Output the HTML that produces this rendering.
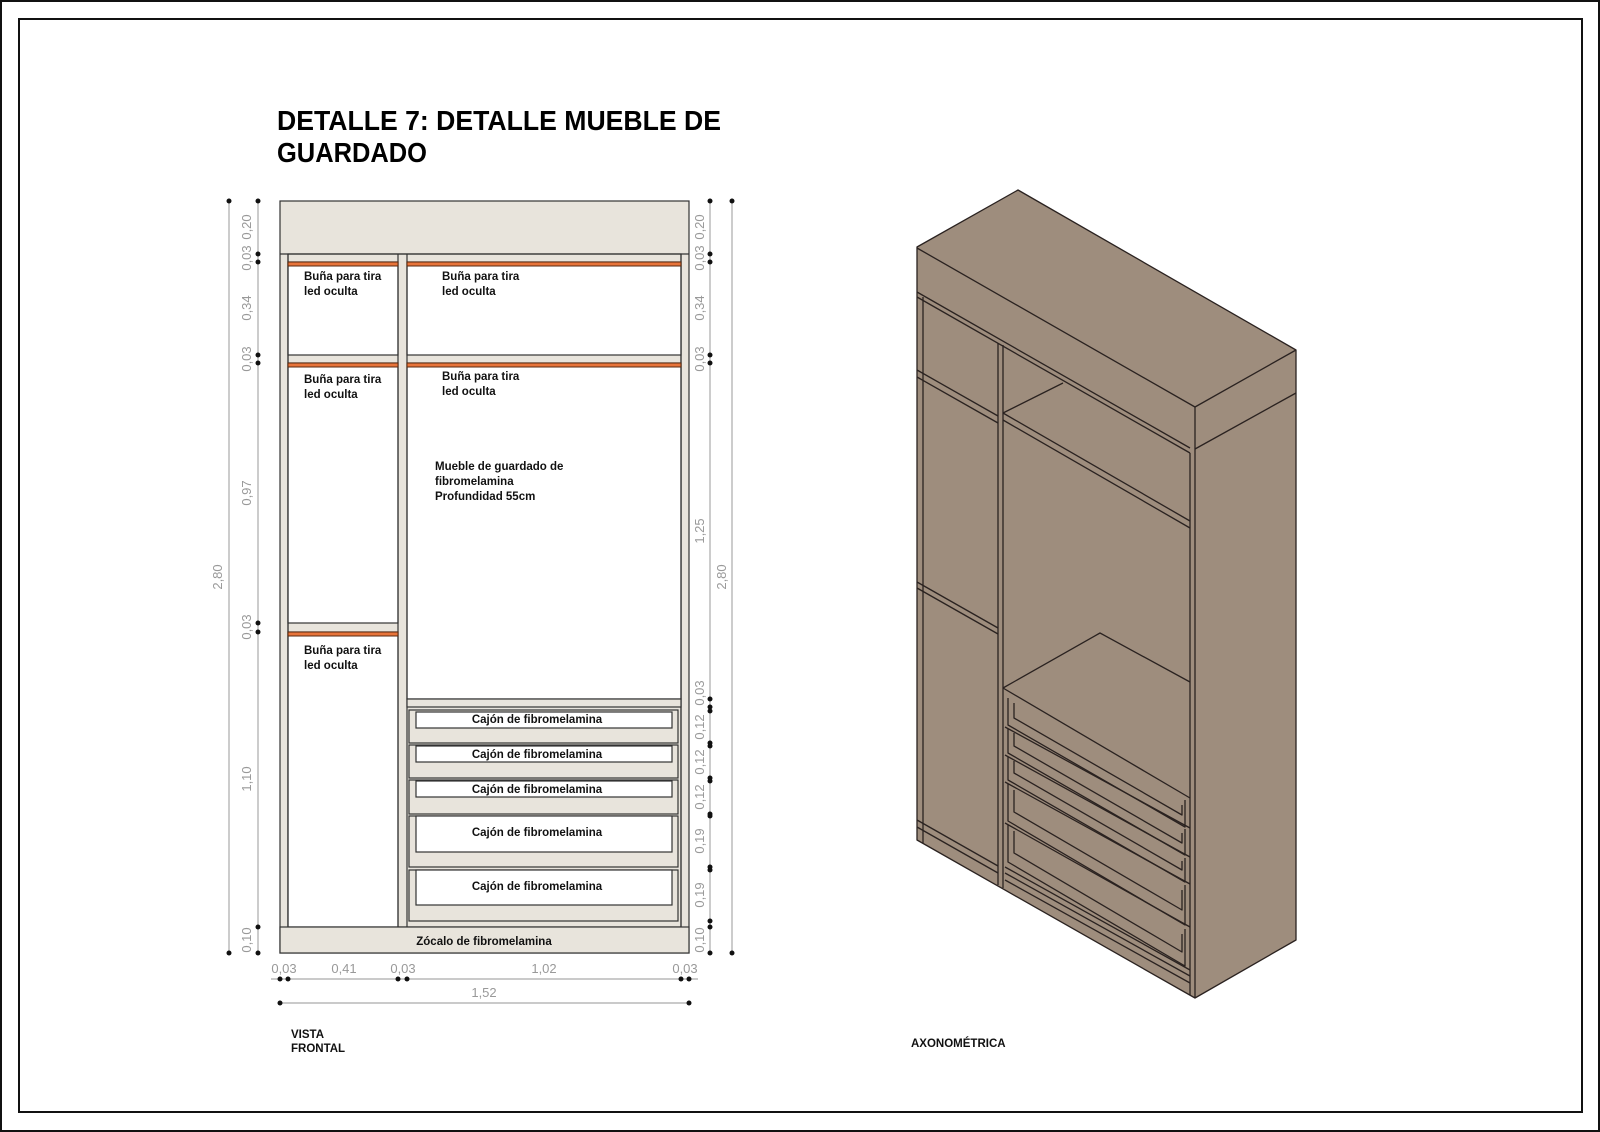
<!DOCTYPE html>
<html><head><meta charset="utf-8"><style>
html,body{margin:0;padding:0;background:#fff;}
svg{display:block;}
text{font-family:"Liberation Sans",sans-serif;}
.b{font-weight:bold;font-size:11.5px;fill:#111;}
.d{font-size:13px;fill:#999;}
</style></head><body>
<svg width="1600" height="1132" viewBox="0 0 1600 1132" xmlns="http://www.w3.org/2000/svg">
<rect x="1" y="1" width="1598" height="1130" fill="#fff" stroke="#111" stroke-width="2"/>
<rect x="19" y="19" width="1563" height="1093" fill="none" stroke="#111" stroke-width="2"/>
<text x="277" y="130" font-size="28" font-weight="bold" textLength="444" lengthAdjust="spacingAndGlyphs">DETALLE 7: DETALLE MUEBLE DE</text>
<text x="277" y="162" font-size="28" font-weight="bold" textLength="150" lengthAdjust="spacingAndGlyphs">GUARDADO</text>

<!-- front view -->
<g stroke="#333" stroke-width="1.2" fill="#e8e4dc">
<rect x="280" y="201" width="409" height="752"/>
<rect x="288" y="254" width="393" height="673" fill="#e8e4dc"/>
<rect x="288" y="262" width="110" height="93" fill="#fff"/>
<rect x="407" y="262" width="274" height="93" fill="#fff"/>
<rect x="288" y="363" width="110" height="260" fill="#fff"/>
<rect x="407" y="363" width="274" height="336" fill="#fff"/>
<rect x="288" y="632" width="110" height="295" fill="#fff"/>
<line x1="280" y1="254" x2="689" y2="254"/>
<line x1="288" y1="254" x2="288" y2="927"/><line x1="681" y1="254" x2="681" y2="927"/>
<line x1="398" y1="254" x2="398" y2="927"/><line x1="407" y1="254" x2="407" y2="927"/>
<rect x="407" y="699" width="274" height="8"/>
<rect x="409" y="710" width="269" height="33"/><rect x="416" y="712" width="256" height="16" fill="#fff"/>
<rect x="409" y="745" width="269" height="33"/><rect x="416" y="746" width="256" height="16" fill="#fff"/>
<rect x="409" y="780" width="269" height="34"/><rect x="416" y="781" width="256" height="16" fill="#fff"/>
<rect x="409" y="816" width="269" height="51"/><rect x="416" y="816" width="256" height="36" fill="#fff"/>
<rect x="409" y="870" width="269" height="51"/><rect x="416" y="870" width="256" height="35" fill="#fff"/>
<rect x="280" y="927" width="409" height="26"/>
</g>
<g fill="#e8743a" stroke="#5a2a10" stroke-width="1">
<rect x="288" y="262" width="110" height="4"/><rect x="407" y="262" width="274" height="4"/>
<rect x="288" y="363" width="110" height="4"/><rect x="407" y="363" width="274" height="4"/>
<rect x="288" y="632" width="110" height="4"/>
</g>
<g class="b">
<text x="304" y="280">Buña para tira</text><text x="304" y="295">led oculta</text>
<text x="442" y="280">Buña para tira</text><text x="442" y="295">led oculta</text>
<text x="304" y="383">Buña para tira</text><text x="304" y="398">led oculta</text>
<text x="442" y="380">Buña para tira</text><text x="442" y="395">led oculta</text>
<text x="304" y="654">Buña para tira</text><text x="304" y="669">led oculta</text>
<text x="435" y="470">Mueble de guardado de</text><text x="435" y="485">fibromelamina</text><text x="435" y="500">Profundidad 55cm</text>
</g>
<g class="b" text-anchor="middle">
<text x="537" y="723">Cajón de fibromelamina</text>
<text x="537" y="758">Cajón de fibromelamina</text>
<text x="537" y="793">Cajón de fibromelamina</text>
<text x="537" y="836">Cajón de fibromelamina</text>
<text x="537" y="890">Cajón de fibromelamina</text>
<text x="484" y="945">Zócalo de fibromelamina</text>
</g>

<!-- dimension lines -->
<g stroke="#aaa" stroke-width="1.2">
<line x1="229" y1="201" x2="229" y2="953"/><line x1="258" y1="201" x2="258" y2="953"/>
<line x1="710" y1="201" x2="710" y2="953"/><line x1="732" y1="201" x2="732" y2="953"/>
<line x1="271" y1="979" x2="698" y2="979"/><line x1="280" y1="1003" x2="689" y2="1003"/>
</g>
<g fill="#111">
<circle cx="229" cy="201" r="2.5"/><circle cx="229" cy="953" r="2.5"/>
<circle cx="732" cy="201" r="2.5"/><circle cx="732" cy="953" r="2.5"/>
<circle cx="258" cy="201" r="2.5"/><circle cx="258" cy="254" r="2.5"/><circle cx="258" cy="262" r="2.5"/><circle cx="258" cy="355" r="2.5"/><circle cx="258" cy="363" r="2.5"/><circle cx="258" cy="623" r="2.5"/><circle cx="258" cy="632" r="2.5"/><circle cx="258" cy="927" r="2.5"/><circle cx="258" cy="953" r="2.5"/>
<circle cx="710" cy="201" r="2.5"/><circle cx="710" cy="254" r="2.5"/><circle cx="710" cy="262" r="2.5"/><circle cx="710" cy="355" r="2.5"/><circle cx="710" cy="363" r="2.5"/><circle cx="710" cy="699" r="2.5"/><circle cx="710" cy="707" r="2.5"/><circle cx="710" cy="711" r="2.5"/><circle cx="710" cy="743" r="2.5"/><circle cx="710" cy="746" r="2.5"/><circle cx="710" cy="778" r="2.5"/><circle cx="710" cy="781" r="2.5"/><circle cx="710" cy="814" r="2.5"/><circle cx="710" cy="816" r="2.5"/><circle cx="710" cy="867" r="2.5"/><circle cx="710" cy="870" r="2.5"/><circle cx="710" cy="921" r="2.5"/><circle cx="710" cy="927" r="2.5"/><circle cx="710" cy="953" r="2.5"/>
<circle cx="280" cy="979" r="2.5"/><circle cx="288" cy="979" r="2.5"/><circle cx="398" cy="979" r="2.5"/><circle cx="407" cy="979" r="2.5"/><circle cx="681" cy="979" r="2.5"/><circle cx="689" cy="979" r="2.5"/>
<circle cx="280" cy="1003" r="2.5"/><circle cx="689" cy="1003" r="2.5"/>
</g>
<g class="d" text-anchor="middle">
<text transform="translate(251,227) rotate(-90)">0,20</text>
<text transform="translate(251,258) rotate(-90)">0,03</text>
<text transform="translate(251,308) rotate(-90)">0,34</text>
<text transform="translate(251,359) rotate(-90)">0,03</text>
<text transform="translate(251,493) rotate(-90)">0,97</text>
<text transform="translate(251,627) rotate(-90)">0,03</text>
<text transform="translate(251,779) rotate(-90)">1,10</text>
<text transform="translate(251,940) rotate(-90)">0,10</text>
<text transform="translate(222,577) rotate(-90)">2,80</text>
<text transform="translate(704,227) rotate(-90)">0,20</text>
<text transform="translate(704,258) rotate(-90)">0,03</text>
<text transform="translate(704,308) rotate(-90)">0,34</text>
<text transform="translate(704,359) rotate(-90)">0,03</text>
<text transform="translate(704,531) rotate(-90)">1,25</text>
<text transform="translate(704,693) rotate(-90)">0,03</text>
<text transform="translate(704,727) rotate(-90)">0,12</text>
<text transform="translate(704,762) rotate(-90)">0,12</text>
<text transform="translate(704,797) rotate(-90)">0,12</text>
<text transform="translate(704,841) rotate(-90)">0,19</text>
<text transform="translate(704,895) rotate(-90)">0,19</text>
<text transform="translate(704,940) rotate(-90)">0,10</text>
<text transform="translate(726,577) rotate(-90)">2,80</text>
<text x="284" y="973">0,03</text><text x="344" y="973">0,41</text><text x="403" y="973">0,03</text><text x="544" y="973">1,02</text><text x="685" y="973">0,03</text>
<text x="484" y="997">1,52</text>
</g>
<text class="b" x="291" y="1038">VISTA</text><text class="b" x="291" y="1052">FRONTAL</text>
<text class="b" x="911" y="1047">AXONOMÉTRICA</text>

<!-- axonometric -->
<g stroke="#2a2220" stroke-width="1.3" fill="#9e8d7d" stroke-linejoin="round">
<polygon points="917,247 1018,190 1296,350 1296,940 1195,998 917,840"/>
<polyline points="917,248 1195,407 1296,350" fill="none"/>
<line x1="1195" y1="407" x2="1195" y2="998"/>
<line x1="1195" y1="449" x2="1296" y2="393"/>
<line x1="917" y1="292" x2="1190" y2="448"/>
<line x1="917" y1="297" x2="1190" y2="453"/>
<line x1="1190" y1="453" x2="1190" y2="995"/>
<line x1="923" y1="297" x2="923" y2="843"/>
<line x1="998" y1="343" x2="998" y2="885"/>
<line x1="1003" y1="345" x2="1003" y2="888"/>
<line x1="917" y1="370" x2="998" y2="416"/><line x1="917" y1="377" x2="998" y2="423"/>
<line x1="917" y1="582" x2="998" y2="628"/><line x1="917" y1="588" x2="998" y2="634"/>
<line x1="917" y1="820" x2="998" y2="866"/><line x1="917" y1="827" x2="998" y2="873"/>
<line x1="1003" y1="413" x2="1190" y2="521"/><line x1="1003" y1="420" x2="1190" y2="528"/>
<line x1="1003" y1="413" x2="1063" y2="383"/>
<polyline points="1003,688 1100,633 1190,682" fill="none"/>
<line x1="1003" y1="688" x2="1190" y2="798"/>
<g fill="none">
<polyline points="1008,698 1008,725 1185,827 1185,800"/>
<polyline points="1014,703 1014,718 1182,815 1182,805"/>
<line x1="1005" y1="727" x2="1190" y2="828"/>
<polyline points="1008,729 1008,753 1185,855 1185,829"/>
<polyline points="1014,733 1014,746 1182,843 1182,833"/>
<line x1="1005" y1="755" x2="1190" y2="857"/>
<polyline points="1008,757 1008,780 1185,882 1185,858"/>
<polyline points="1014,761 1014,773 1182,870 1182,861"/>
<line x1="1005" y1="782" x2="1190" y2="884"/>
<polyline points="1008,784 1008,821 1185,925 1185,885"/>
<polyline points="1014,790 1014,812 1182,910 1182,890"/>
<line x1="1005" y1="823" x2="1190" y2="927"/>
<polyline points="1008,825 1008,862 1185,966 1185,929"/>
<polyline points="1014,831 1014,853 1182,952 1182,934"/>
<line x1="1005" y1="867" x2="1190" y2="970"/>
<line x1="1005" y1="873" x2="1190" y2="976"/>
<line x1="1005" y1="880" x2="1190" y2="983"/>
</g>
</g>
</svg>
</body></html>
